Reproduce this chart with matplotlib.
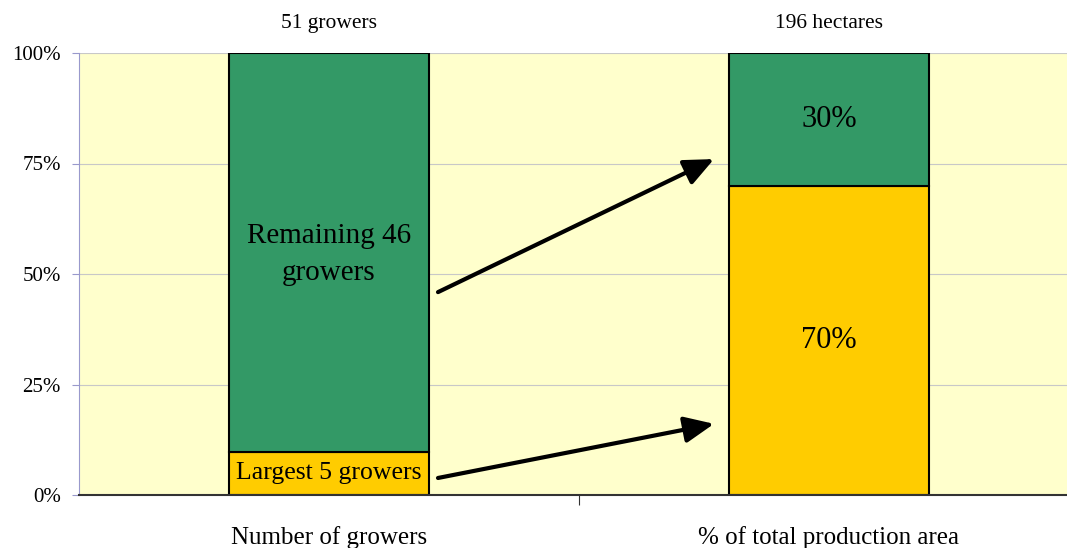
import matplotlib.pyplot as plt
from matplotlib.ticker import FixedLocator

# Data
categories = ["Number of growers", "% of total production area"]
top_labels = ["51 growers", "196 hectares"]
largest_share = [5 / 51 * 100, 70]          # yellow segment (%)
remaining_share = [46 / 51 * 100, 30]       # green segment (%)
seg_labels_bottom = ["Largest 5 growers", "70%"]
seg_labels_top = ["Remaining 46\ngrowers", "30%"]

plt.rcParams['font.family'] = ['Liberation Serif', 'DejaVu Serif']

fig = plt.figure(figsize=(10.67, 5.48), dpi=100)
ax = fig.add_axes([79 / 1067, 53 / 548, 1000 / 1067, 442 / 548])
ax.set_facecolor('#FFFFCC')

x = list(range(len(categories)))
ax.bar(x, largest_share, width=0.4, color='#FFCC00', edgecolor='black', linewidth=1.5, zorder=3)
ax.bar(x, remaining_share, width=0.4, bottom=largest_share, color='#339966',
       edgecolor='black', linewidth=1.5, zorder=3)

ax.set_xlim(-0.5, 1.5)
ax.set_ylim(0, 100)

# y axis
ax.set_yticks([0, 25, 50, 75, 100])
ax.set_yticklabels(['0%', '25%', '50%', '75%', '100%'], fontsize=15)
ax.tick_params(axis='y', length=5, color='#9999CC', pad=8)
ax.grid(axis='y', color='#C8C8C8', linewidth=0.8, zorder=0)

# x axis: tick mark between categories, labels under bars
ax.xaxis.set_major_locator(FixedLocator([0.5]))
ax.xaxis.set_major_formatter(plt.NullFormatter())
ax.xaxis.set_minor_locator(FixedLocator(x))
ax.set_xticklabels(categories, minor=True, fontsize=18)
ax.tick_params(axis='x', which='major', length=7, color='#333333', direction='out')
ax.tick_params(axis='x', which='minor', length=0, pad=22)

for side in ['top', 'right']:
    ax.spines[side].set_visible(False)
ax.spines['left'].set_color('#9999CC')
ax.spines['bottom'].set_color('#333333')
ax.spines['bottom'].set_linewidth(1.5)
ax.spines['bottom'].set_zorder(4)

# segment labels
ax.text(0, largest_share[0] / 2, seg_labels_bottom[0], ha='center', va='center', fontsize=18.5, zorder=5)
ax.text(0, largest_share[0] + remaining_share[0] * 0.5 - 0.5, seg_labels_top[0], ha='center',
        va='center', fontsize=21, linespacing=1.55, zorder=5)
ax.text(1, largest_share[1] / 2, seg_labels_bottom[1], ha='center', va='center', fontsize=22, zorder=5)
ax.text(1, largest_share[1] + remaining_share[1] / 2, seg_labels_top[1], ha='center', va='center',
        fontsize=22, zorder=5)

# totals above bars
for xi, lab in zip(x, top_labels):
    ax.text(xi, 106.6, lab, ha='center', va='center', fontsize=15.5, clip_on=False)

# arrows
arrow_style = dict(arrowstyle='-|>,head_length=1.8,head_width=0.8', color='black', lw=3,
                   shrinkA=0, shrinkB=0)
ax.annotate('', xy=(0.77, 76.0), xytext=(0.218, 45.9), arrowprops=arrow_style, zorder=6)
ax.annotate('', xy=(0.77, 16.1), xytext=(0.218, 3.85), arrowprops=arrow_style, zorder=6)

fig.savefig('out.png', dpi=100)
